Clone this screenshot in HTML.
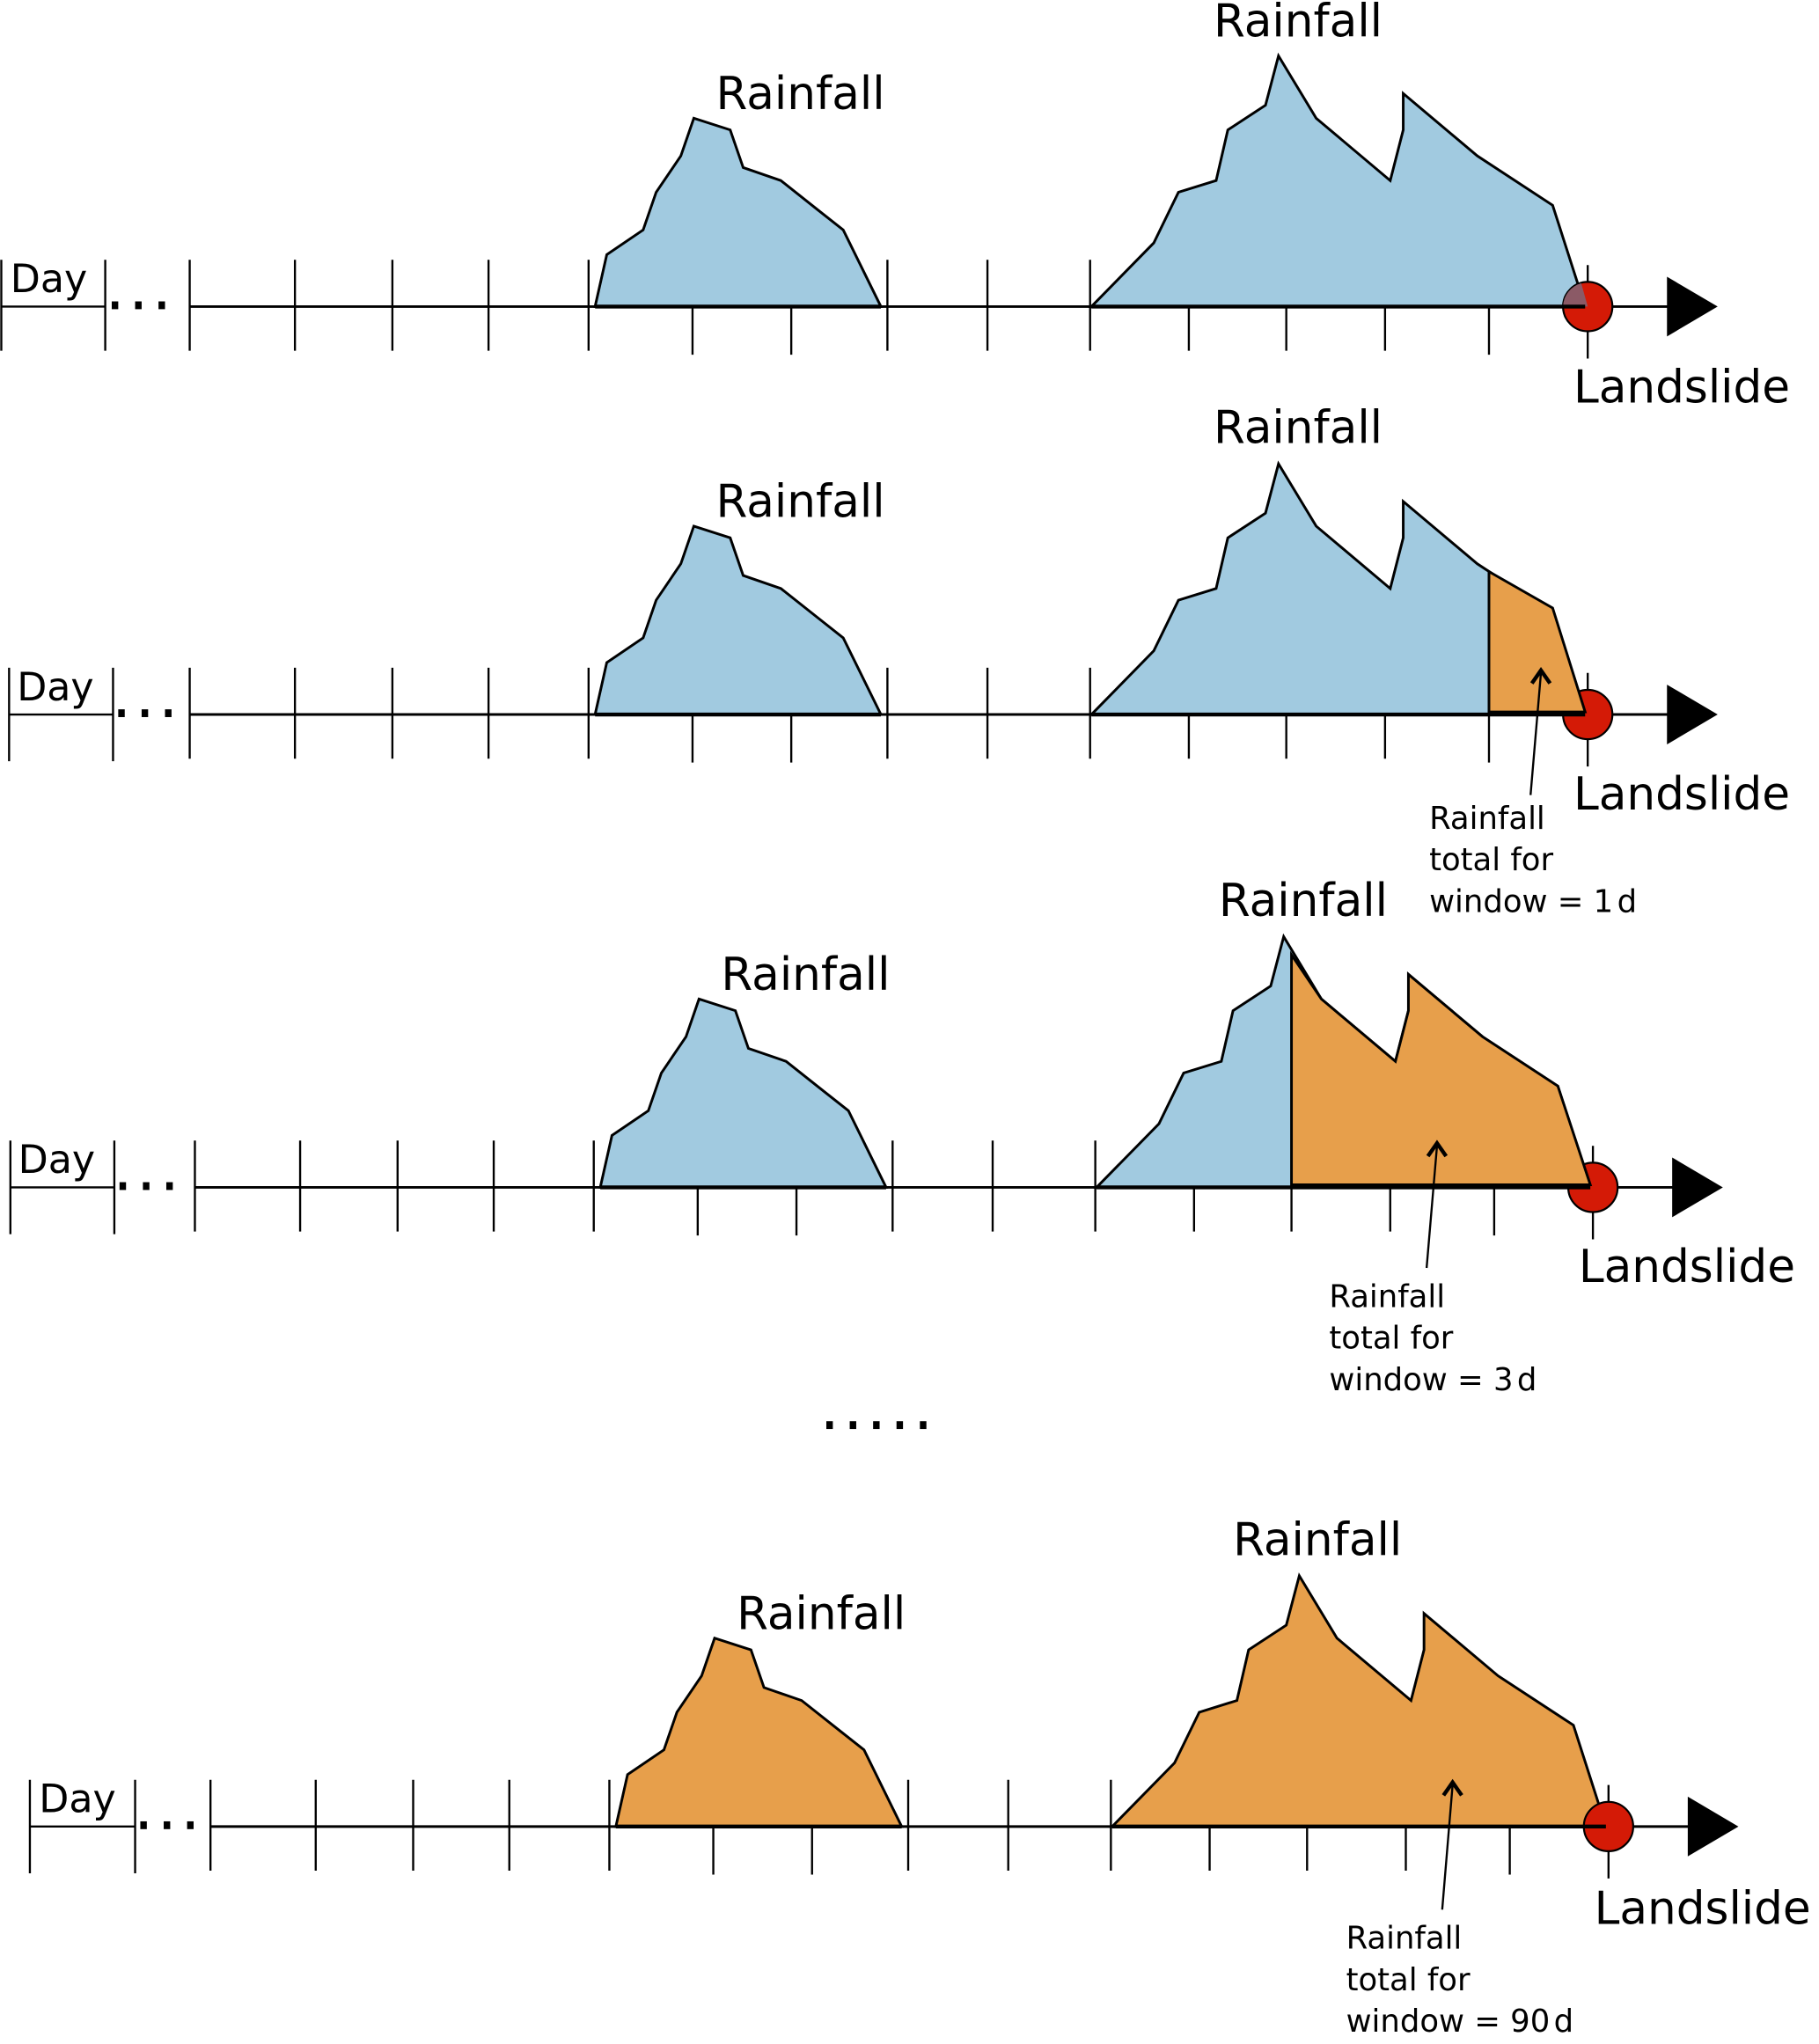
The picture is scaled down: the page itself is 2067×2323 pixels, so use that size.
<!DOCTYPE html>
<html><head><meta charset="utf-8"><style>
html,body{margin:0;padding:0;background:#fff}
svg{display:block}
text{font-family:"DejaVu Sans","Liberation Sans",sans-serif;fill:#000}
</style></head><body>
<svg width="2067" height="2323" viewBox="0 0 1400 1573.4" preserveAspectRatio="none" xmlns="http://www.w3.org/2000/svg">
<defs>
<g id="ticks" stroke="#000" stroke-width="1.6">
<line x1="146" y1="200" x2="146" y2="270"/><line x1="227" y1="200" x2="227" y2="270"/>
<line x1="302" y1="200" x2="302" y2="270"/><line x1="376" y1="200" x2="376" y2="270"/>
<line x1="453" y1="200" x2="453" y2="270"/><line x1="533" y1="204" x2="533" y2="273"/>
<line x1="609" y1="204" x2="609" y2="273"/><line x1="683" y1="200" x2="683" y2="270"/>
<line x1="760" y1="200" x2="760" y2="270"/><line x1="839" y1="200" x2="839" y2="270"/>
<line x1="915" y1="200" x2="915" y2="270"/><line x1="990" y1="200" x2="990" y2="270"/>
<line x1="1066" y1="200" x2="1066" y2="270"/><line x1="1146" y1="204" x2="1146" y2="273"/>
<line x1="1222" y1="204" x2="1222" y2="276"/>
<line x1="146" y1="236" x2="1290" y2="236" stroke-width="2"/>
</g>
<polygon id="b1" points="458,236 467,196 495,177 505,148 524,120 534,91 562,100 572,129 601,139 630,162 649,177 678,236" stroke="#000" stroke-width="2" stroke-linejoin="miter"/>
<polygon id="b2" points="840,236 888,187 907,148 936,139 945,100 974,81 984,43 1013,91 1070,139 1080,100 1080,72 1137,120 1195,158 1220,236" stroke="#000" stroke-width="2"/>
<g id="end">
<circle cx="1222" cy="236" r="19" fill="#d41a06" stroke="#000" stroke-width="1.5"/>
<polygon points="1283,213 1322,236 1283,259" fill="#000"/>
</g>
</defs>

<g>
<use href="#ticks"/>
<use href="#b1" fill="#a1cae0"/>
<use href="#b2" fill="#a1cae0"/>
<use href="#end"/>
<path d="M1203,236 A19,19 0 0 1 1217,218 L1222,236 Z" fill="#8b5a66"/>
<line x1="458" y1="236" x2="678" y2="236" stroke="#000" stroke-width="3"/>
<line x1="840" y1="236" x2="1220" y2="236" stroke="#000" stroke-width="3"/>
<line x1="1" y1="200" x2="1" y2="270" stroke="#000" stroke-width="1.6"/>
<line x1="81" y1="200" x2="81" y2="270" stroke="#000" stroke-width="1.6"/>
<line x1="1" y1="236" x2="81" y2="236" stroke="#000" stroke-width="1.6"/>
<text x="8" y="225" font-size="30">Day</text>
<rect x="86" y="232" width="5" height="6"/><rect x="104" y="232" width="5" height="6"/><rect x="122" y="232" width="5" height="6"/>
<text x="551" y="84" font-size="35">Rainfall</text>
<text x="934" y="28" font-size="35">Rainfall</text>
<text x="1211" y="310" font-size="35">Landslide</text>
</g>

<g transform="translate(0,314)">
<use href="#ticks"/>
<use href="#b1" fill="#a1cae0"/>
<use href="#b2" fill="#a1cae0"/>
<use href="#end"/>
<polygon points="1146,126 1146,234 1220,234 1195,154" fill="#e79f4b" stroke="#000" stroke-width="2"/>
<line x1="458" y1="236" x2="678" y2="236" stroke="#000" stroke-width="3"/>
<line x1="840" y1="236" x2="1220" y2="236" stroke="#000" stroke-width="3"/>
<line x1="7" y1="200" x2="7" y2="272" stroke="#000" stroke-width="1.6"/>
<line x1="87" y1="200" x2="87" y2="272" stroke="#000" stroke-width="1.6"/>
<line x1="7" y1="236" x2="87" y2="236" stroke="#000" stroke-width="1.6"/>
<text x="13" y="225" font-size="30">Day</text>
<rect x="91" y="232" width="5" height="6"/><rect x="109" y="232" width="5" height="6"/><rect x="127" y="232" width="5" height="6"/>
<text x="551" y="84" font-size="35">Rainfall</text>
<text x="934" y="27" font-size="35">Rainfall</text>
<text x="1211" y="309" font-size="35">Landslide</text>
<line x1="1178" y1="298" x2="1186" y2="204" stroke="#000" stroke-width="1.6"/>
<polyline points="1179,212 1186,202 1193,212" fill="none" stroke="#000" stroke-width="3"/>
<text x="1100" y="324" font-size="24">Rainfall</text>
<text x="1100" y="356" font-size="24">total for</text>
<text x="1100" y="388" font-size="24">window = 1<tspan dx="3">d</tspan></text>
</g>

<g transform="translate(4,678)">
<use href="#ticks"/>
<use href="#b1" fill="#a1cae0"/>
<use href="#b2" fill="#a1cae0"/>
<use href="#end"/>
<polygon points="990,57 1013,91 1070,139 1080,100 1080,72 1137,120 1195,158 1220,234 990,234" fill="#e79f4b" stroke="#000" stroke-width="2"/>
<line x1="458" y1="236" x2="678" y2="236" stroke="#000" stroke-width="3"/>
<line x1="840" y1="236" x2="1220" y2="236" stroke="#000" stroke-width="3"/>
<line x1="4" y1="200" x2="4" y2="272" stroke="#000" stroke-width="1.6"/>
<line x1="84" y1="200" x2="84" y2="272" stroke="#000" stroke-width="1.6"/>
<line x1="4" y1="236" x2="84" y2="236" stroke="#000" stroke-width="1.6"/>
<text x="10" y="225" font-size="30">Day</text>
<rect x="88" y="232" width="5" height="6"/><rect x="106" y="232" width="5" height="6"/><rect x="124" y="232" width="5" height="6"/>
<text x="551" y="84" font-size="35">Rainfall</text>
<text x="934" y="27" font-size="35">Rainfall</text>
<text x="1211" y="309" font-size="35">Landslide</text>
<line x1="1094" y1="298" x2="1102" y2="204" stroke="#000" stroke-width="1.6"/>
<polyline points="1095,212 1102,202 1109,212" fill="none" stroke="#000" stroke-width="3"/>
<text x="1019" y="328" font-size="24">Rainfall</text>
<text x="1019" y="360" font-size="24">total for</text>
<text x="1019" y="392" font-size="24">window = 3<tspan dx="3">d</tspan></text>
</g>

<g>
<rect x="636" y="1094" width="5" height="6"/><rect x="654" y="1094" width="5" height="6"/><rect x="672" y="1094" width="5" height="6"/><rect x="690" y="1094" width="5" height="6"/><rect x="708" y="1094" width="5" height="6"/>
</g>

<g transform="translate(16,1170)">
<use href="#ticks"/>
<use href="#b1" fill="#e79f4b"/>
<use href="#b2" fill="#e79f4b"/>
<use href="#end"/>
<line x1="458" y1="236" x2="678" y2="236" stroke="#000" stroke-width="3"/>
<line x1="840" y1="236" x2="1220" y2="236" stroke="#000" stroke-width="3"/>
<line x1="7" y1="200" x2="7" y2="272" stroke="#000" stroke-width="1.6"/>
<line x1="88" y1="200" x2="88" y2="272" stroke="#000" stroke-width="1.6"/>
<line x1="7" y1="236" x2="88" y2="236" stroke="#000" stroke-width="1.6"/>
<text x="14" y="225" font-size="30">Day</text>
<rect x="92" y="232" width="5" height="6"/><rect x="110" y="232" width="5" height="6"/><rect x="128" y="232" width="5" height="6"/>
<text x="551" y="84" font-size="35">Rainfall</text>
<text x="933" y="27" font-size="35">Rainfall</text>
<text x="1211" y="311" font-size="35">Landslide</text>
<line x1="1094" y1="300" x2="1102" y2="204" stroke="#000" stroke-width="1.6"/>
<polyline points="1095,212 1102,202 1109,212" fill="none" stroke="#000" stroke-width="3"/>
<text x="1020" y="330" font-size="24">Rainfall</text>
<text x="1020" y="362" font-size="24">total for</text>
<text x="1020" y="394" font-size="24">window = 90<tspan dx="3">d</tspan></text>
</g>
</svg>
</body></html>
